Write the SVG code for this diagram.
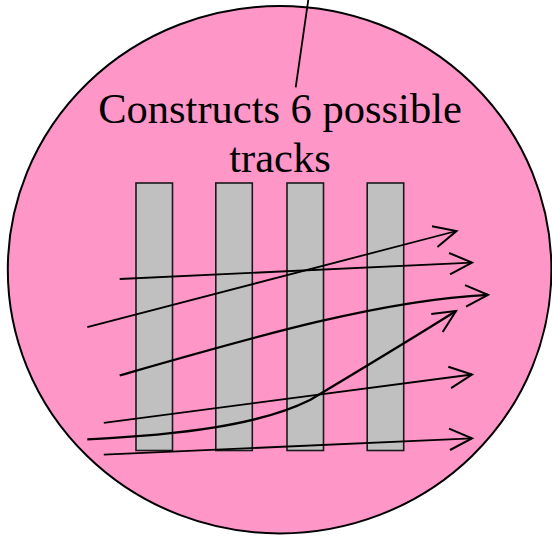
<svg xmlns="http://www.w3.org/2000/svg" width="552" height="536" viewBox="0 0 552 536">
<defs>
<style>
.bg{fill:#ff96c8;stroke:#000;stroke-width:2}
.bar{fill:#c0c0c0;stroke:#1a1a1a;stroke-width:1.6}
.trk{fill:none;stroke:#000;stroke-width:1.8;marker-end:url(#ah)}
.crv{fill:none;stroke:#000;stroke-width:2.3;marker-end:url(#ah)}
.lbl{font-family:"Liberation Serif","Times New Roman",serif;font-size:42.5px;fill:#000;text-anchor:middle}
</style>
<marker id="ah" markerUnits="userSpaceOnUse" markerWidth="30" markerHeight="30" refX="0" refY="0" viewBox="-24 -14 28 28" orient="auto" overflow="visible">
<path d="M-21,-10 L0,0 L-21,10" fill="none" stroke="#000" stroke-width="1.9"/>
</marker>
</defs>
<g id="scene">
<ellipse class="bg" cx="279.6" cy="269.7" rx="271.8" ry="263.7"/>
</g>
<g id="label">
<text class="lbl" x="280" y="122.5">Constructs 6 possible</text>
<text class="lbl" x="280" y="172">tracks</text>
</g>
<g id="bar1"><rect class="bar" x="136" y="183" width="36.5" height="267.5"/></g>
<g id="bar2"><rect class="bar" x="215.8" y="183" width="36.5" height="267.5"/></g>
<g id="bar3"><rect class="bar" x="287" y="183" width="36.5" height="267.5"/></g>
<g id="bar4"><rect class="bar" x="367.2" y="183" width="36.5" height="267.5"/></g>
<g id="connectors">
<line x1="308.4" y1="-1" x2="295.7" y2="87.3" stroke="#000" stroke-width="1.8"/>
<path class="trk" d="M87.3,327.2 L456.5,231"/>
<path class="trk" d="M119.7,279 L472,262.6"/>
<path class="crv" d="M119.7,375.4 C250,338 380,300 488,294.8"/>
<path class="crv" d="M87.3,439.3 C180,435 260,425 310,400 C360,370 410,340 456,311"/>
<path class="trk" d="M103.8,422.9 L472,374.5"/>
<path class="trk" d="M103.8,454.7 L472,438.3"/>
</g>
</svg>
